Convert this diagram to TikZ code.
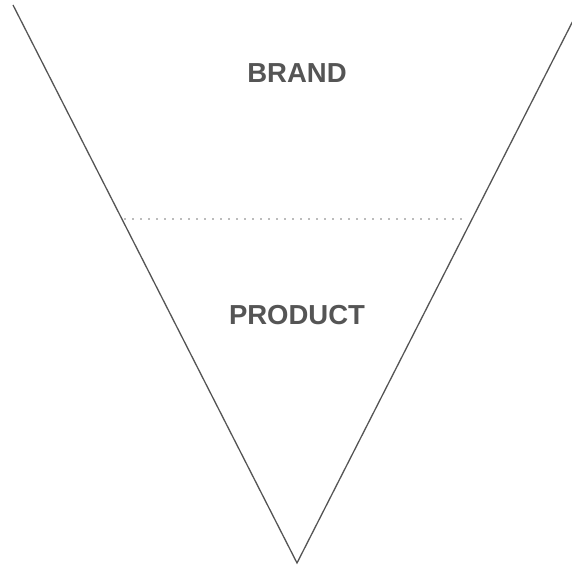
\documentclass[tikz,border=0pt]{standalone}
\usepackage{fontspec}
\setmainfont{Liberation Sans}
\definecolor{inkgray}{HTML}{555555}
\definecolor{dotgray}{HTML}{777777}
\begin{document}
\begin{tikzpicture}[x=1pt,y=-1pt,
  edge/.style={draw=inkgray,line width=1.3pt},
  sep/.style={draw=dotgray,line width=1.6pt,line cap=round,dash pattern=on 0pt off 8pt},
  label/.style={text=inkgray,font=\fontsize{27.5}{31}\selectfont\bfseries,inner sep=0pt}]
\useasboundingbox (0,0) rectangle (572,564);
\coordinate (tl) at (13,5);
\coordinate (tr) at (581,5);
\coordinate (apex) at (297,563);
\coordinate (dl) at (125,219);
\coordinate (dr) at (466,219);
\draw[edge] (tl) -- (apex) -- (tr);
\draw[sep] (dl) -- (dr);
\node[label] (brand) at (297,73) {BRAND};
\node[label] (product) at (297,315) {PRODUCT};
\end{tikzpicture}
\end{document}
